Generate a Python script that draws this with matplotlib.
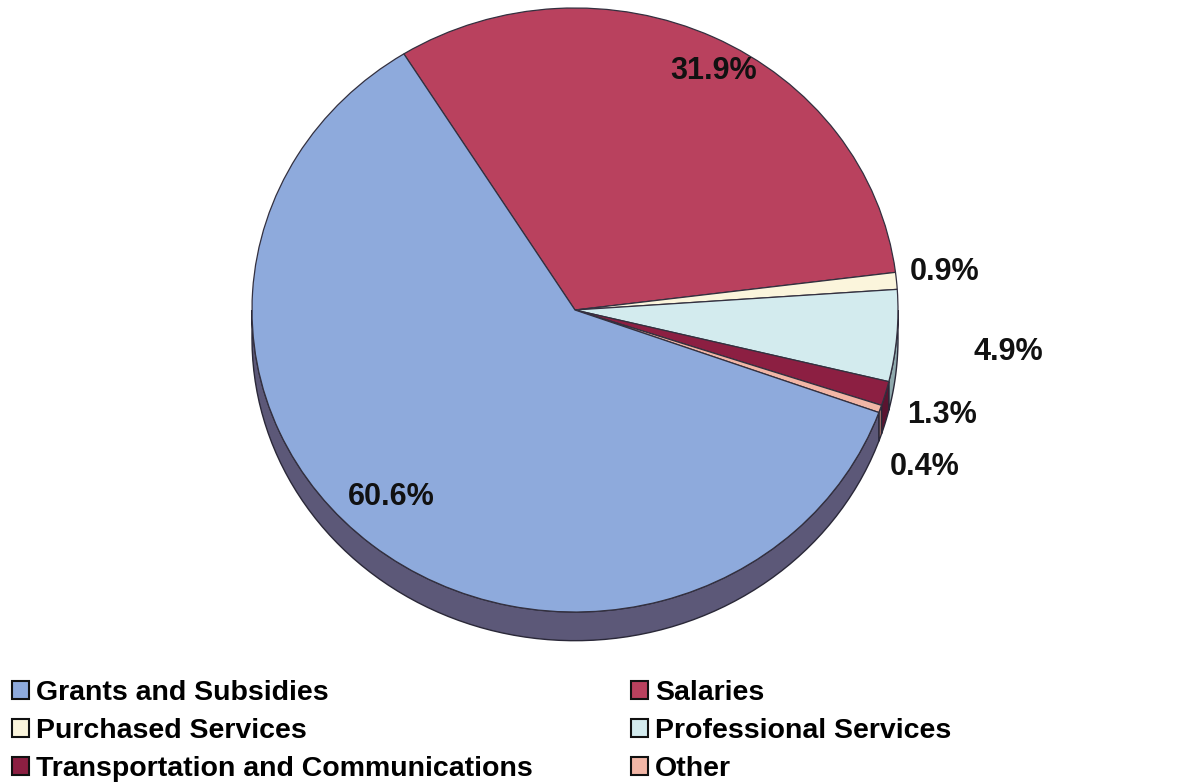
import matplotlib
matplotlib.use("Agg")
import matplotlib.pyplot as plt
from matplotlib.patches import Patch, Polygon
import numpy as np

plt.rcParams['font.family'] = ['Liberation Sans', 'DejaVu Sans']

# data, in pie order (clockwise from the top left)
categories = ['Salaries', 'Purchased Services', 'Professional Services',
              'Transportation and Communications', 'Other', 'Grants and Subsidies']
shares = [31.9, 0.9, 4.9, 1.3, 0.4, 60.6]
pct_labels = ['31.9%', '0.9%', '4.9%', '1.3%', '0.4%', '60.6%']
legend_order = ['Grants and Subsidies', 'Purchased Services',
                'Transportation and Communications', 'Salaries',
                'Professional Services', 'Other']

top_colors = ['#B9415E', '#FBF5DC', '#D3EBEE', '#8C1F42', '#F2B6A6', '#8EAADC']
side_colors = ['#7A2238', '#B8B29A', '#8FA9AD', '#5A1430', '#B07A70', '#5C5878']

# label placement: radial distance and small angular nudge per slice
label_r = [0.90, 1.15, 1.35, 1.19, 1.20, 0.84]
label_nudge = [-3.0, 0.7, -1.0, -1.0, -6.5, -3.6]
depth = 0.095

fig = plt.figure(figsize=(11.86, 7.84), dpi=100)
ax = fig.add_axes([0, 0, 1, 1])

wedges, _ = ax.pie(shares, colors=top_colors, startangle=122, counterclock=False,
                   wedgeprops=dict(edgecolor='#33303f', linewidth=0.9, zorder=3))

# side of the 3D pie: lower half of each wedge, pushed down by depth
for w, sc in zip(wedges, side_colors):
    for k in (-1, 0, 1):
        a = max(w.theta1, -180 + 360 * k)
        b = min(w.theta2, 0 + 360 * k)
        if b <= a:
            continue
        t = np.radians(np.linspace(a, b, 80))
        top = np.column_stack([np.cos(t), np.sin(t)])
        bot = np.column_stack([np.cos(t[::-1]), np.sin(t[::-1]) - depth])
        ax.add_patch(Polygon(np.vstack([top, bot]), closed=True, facecolor=sc,
                             edgecolor='#2a2838', linewidth=1.0, zorder=2))

for w, txt, r, nudge in zip(wedges, pct_labels, label_r, label_nudge):
    mid = np.radians((w.theta1 + w.theta2) / 2 + nudge)
    ax.text(r * np.cos(mid), r * np.sin(mid), txt, ha='center', va='center',
            fontsize=22, fontweight='bold', color='#111111', zorder=5)

ax.set_aspect('auto')
ax.set_xlim(-575 / 323, (1186 - 575) / 323)
ax.set_ylim(-(784 - 310) / 302, 310 / 302)
ax.axis('off')

color_of = dict(zip(categories, top_colors))
handles = [Patch(facecolor=color_of[c], edgecolor='#111111', linewidth=1.5, label=c)
           for c in legend_order]
fig.legend(handles=handles, ncol=2, loc='upper left', bbox_to_anchor=(0.010, 0.133),
           frameon=False, borderpad=0, borderaxespad=0, handlelength=0.6,
           handleheight=0.6, handletextpad=0.25, columnspacing=3.45,
           labelspacing=0.42, prop=dict(size=20.5, weight='bold'))

fig.savefig('out.png', dpi=100, facecolor='white')
